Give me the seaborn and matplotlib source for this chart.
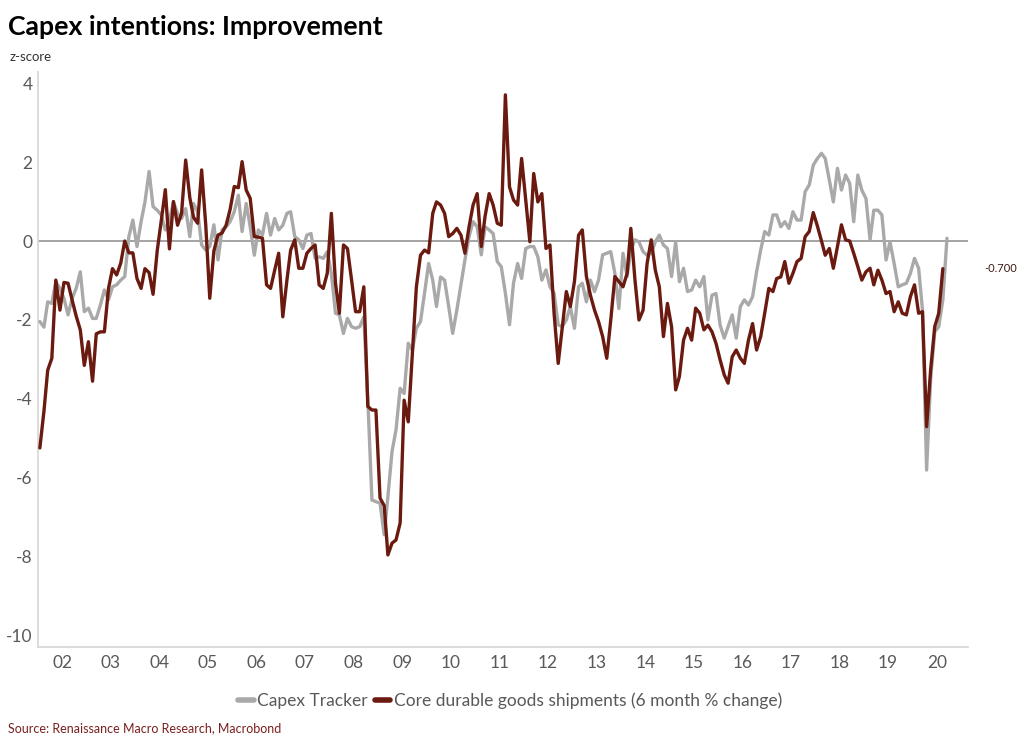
import numpy as np
import pandas as pd
import seaborn as sns
import matplotlib.pyplot as plt
import matplotlib.transforms as mtransforms

# monthly values, Jan 2002 onwards
capex_tracker = [
    -2.04, -2.18, -1.54, -1.58, -1.03, -1.20, -1.45, -1.87, -1.45, -1.20, -0.78, -1.79,
    -1.70, -1.96, -1.96, -1.62, -1.24, -1.49, -1.16, -1.11, -0.99, -0.90, 0.11, 0.53,
    -0.14, 0.49, 0.99, 1.76, 0.87, 0.78, 0.66, 0.28, 0.53, 0.99, 0.70, 0.57,
    0.82, 0.11, 0.95, 0.74, -0.10, -0.23, -0.14, 0.41, -0.48, 0.28, 0.36, 0.49,
    0.74, 1.16, 0.24, 0.95, 0.36, -0.36, 0.28, 0.15, 0.70, 0.15, 0.57, 0.28,
    0.40, 0.70, 0.74, 0.11, 0.03, -0.19, 0.15, 0.19, -0.44, -0.40, -0.44, -0.27,
    -0.82, -1.83, -1.87, -2.34, -1.96, -2.17, -2.21, -2.17, -1.92, -4.00, -6.56, -6.60,
    -6.64, -7.44, -6.47, -5.33, -4.78, -3.73, -3.86, -2.59, -2.76, -2.21, -2.04, -1.33,
    -0.57, -0.99, -1.66, -0.91, -0.99, -1.66, -2.34, -1.75, -1.11, -0.48, 0.11, 0.49,
    0.36, -0.35, 0.36, 0.28, 0.19, -0.52, -0.65, -1.32, -2.12, -1.07, -0.57, -0.95,
    -0.19, -0.14, -0.14, -0.40, -0.99, -0.73, -1.16, -1.32, -2.12, -2.17, -2.00, -1.66,
    -2.21, -1.16, -1.07, -1.54, -0.99, -1.28, -0.99, -0.35, -0.31, -0.27, -0.82, -1.71,
    -0.31, -0.90, -0.23, 0.03, -0.02, -0.27, -0.36, -0.31, -0.02, 0.15, -0.10, -0.19,
    -0.90, -0.02, -1.03, -0.69, -1.28, -1.24, -0.99, -1.16, -0.90, -2.00, -1.37, -1.33,
    -2.13, -2.46, -2.17, -1.87, -2.46, -1.66, -1.49, -1.62, -1.41, -0.78, -0.23, 0.24,
    0.15, 0.66, 0.66, 0.36, 0.49, 0.32, 0.74, 0.53, 0.53, 1.25, 1.42, 1.92,
    2.09, 2.22, 2.09, 1.54, 0.99, 1.84, 1.29, 1.67, 1.46, 0.49, 1.67, 1.29,
    1.08, 0.03, 0.78, 0.78, 0.66, -0.48, -0.02, -0.57, -1.16, -1.11, -1.07, -0.82,
    -0.44, -0.69, -1.75, -5.80, -3.52, -2.30, -2.17, -1.49, 0.07,
]

core_shipments = [
    -5.24, -4.30, -3.27, -2.97, -0.99, -1.75, -1.05, -1.07, -1.50, -1.90, -2.25, -3.15,
    -2.55, -3.55, -2.35, -2.30, -2.30, -1.20, -0.70, -0.86, -0.56, 0.00, -0.30, -0.30,
    -0.95, -1.20, -0.70, -0.80, -1.35, -0.25, 0.50, 1.30, -0.20, 1.00, 0.40, 0.70,
    2.05, 1.10, 0.60, 0.45, 1.80, 0.40, -1.45, -0.25, 0.15, 0.20, 0.40, 0.80,
    1.38, 1.35, 2.01, 1.29, 1.08, 0.11, 0.10, 0.07, -1.11, -1.20, -0.74, -0.31,
    -1.92, -0.99, -0.23, 0.03, -0.69, -0.69, -0.31, -0.19, -0.10, -1.11, -1.20, -0.82,
    0.70, -1.07, -1.83, -0.10, -0.19, -0.99, -1.79, -1.79, -1.16, -4.19, -4.28, -4.28,
    -6.51, -6.70, -7.95, -7.65, -7.57, -7.14, -4.03, -4.58, -2.84, -1.16, -0.36, -0.23,
    -0.30, 0.70, 0.99, 0.91, 0.70, 0.11, 0.19, 0.32, 0.15, -0.31, 0.36, 0.91,
    1.20, -0.14, 0.62, 1.20, 0.91, 0.45, 0.40, 3.70, 1.37, 1.04, 0.91, 2.09,
    1.04, -0.02, 1.71, 0.99, 1.20, -0.19, -0.10, -1.83, -3.10, -2.21, -1.28, -1.66,
    -1.03, 0.15, 0.28, -0.90, -1.37, -1.75, -2.04, -2.42, -2.97, -2.00, -0.90, -1.03,
    -1.16, -0.82, 0.32, -0.99, -2.00, -1.75, -0.57, 0.03, -0.74, -1.16, -2.42, -1.58,
    -2.17, -3.77, -3.43, -2.51, -2.21, -2.51, -1.70, -1.83, -2.25, -2.13, -2.30, -2.59,
    -3.01, -3.39, -3.60, -2.93, -2.76, -2.97, -3.10, -2.51, -2.09, -2.76, -2.42, -1.83,
    -1.20, -1.28, -0.95, -0.91, -0.52, -1.07, -0.82, -0.52, -0.44, 0.11, 0.24, 0.72,
    0.38, 0.00, -0.36, -0.19, -0.69, -0.14, 0.41, 0.03, 0.00, -0.31, -0.65, -0.99,
    -0.78, -0.69, -1.11, -0.74, -0.99, -1.33, -1.28, -1.79, -1.54, -1.83, -1.87, -1.41,
    -1.11, -1.83, -1.79, -4.70, -3.27, -2.17, -1.83, -0.70,
]

series_names = ["Capex Tracker", "Core durable goods shipments (6 month % change)"]
series_colors = ["#a9a9a9", "#6b1a10"]
year_labels = [f"{y % 100:02d}" for y in range(2002, 2021)]
y_ticks = [4, 2, 0, -2, -4, -6, -8, -10]

months = pd.date_range("2002-01-01", periods=len(capex_tracker), freq="MS") + pd.Timedelta(days=14)
df = pd.concat([
    pd.DataFrame({"date": months, "value": capex_tracker, "series": series_names[0]}),
    pd.DataFrame({"date": months[:len(core_shipments)], "value": core_shipments, "series": series_names[1]}),
])

sns.set_theme(style="white")
plt.rcParams["font.family"] = ["Lato", "DejaVu Sans"]

fig = plt.figure(figsize=(10.24, 7.49), dpi=100)
ax = fig.add_axes([0.0371, 0.1362, 0.9082, 0.7677])

ax.axhline(0, color="#9c9c9c", lw=1.3, zorder=1)
sns.lineplot(data=df, x="date", y="value", hue="series", hue_order=series_names,
             palette=series_colors, linewidth=2.4, ax=ax, zorder=3)

ax.set_xlim(pd.Timestamp("2002-01-01"), pd.Timestamp("2021-02-20"))
ax.set_ylim(-10.28, 4.28)
ax.set_xticks([pd.Timestamp(f"{y}-07-01") for y in range(2002, 2021)])
ax.set_xticklabels(year_labels)
ax.set_yticks(y_ticks)
ax.set_yticklabels([str(t) for t in y_ticks])
ax.tick_params(axis="both", length=0, labelsize=12.5, colors="#595959")
ax.tick_params(axis="y", pad=4)
ax.tick_params(axis="x", pad=6)
ax.set_xlabel("")
ax.set_ylabel("")
for side in ["top", "right"]:
    ax.spines[side].set_visible(False)
for side in ["left", "bottom"]:
    ax.spines[side].set_color("#d9d9d9")
    ax.spines[side].set_linewidth(1.3)

sns.move_legend(ax, "center", bbox_to_anchor=(0.498, 0.065), bbox_transform=fig.transFigure,
                ncol=2, frameon=False, title=None, fontsize=12.5, handlelength=0.9,
                handletextpad=0.2, columnspacing=0.4, labelcolor="#595959")
for line in ax.get_legend().get_lines():
    line.set_linewidth(4)

# value label for the last brown point
trans = mtransforms.blended_transform_factory(ax.transAxes, ax.transData)
ax.annotate(f"{core_shipments[-1]:.3f}", xy=(1, core_shipments[-1]), xycoords=trans,
            xytext=(12, 0), textcoords="offset points", va="center", ha="left",
            fontsize=8, color="#3c1a14", annotation_clip=False)

fig.text(0.008, 0.964, "Capex intentions: Improvement", fontsize=19.2, fontweight="bold",
         va="center", ha="left", color="black")
fig.text(0.009, 0.924, "z-score", fontsize=9.5, va="center", ha="left", color="#333333")
fig.text(0.008, 0.028, "Source: Renaissance Macro Research, Macrobond", fontsize=9,
         va="center", ha="left", color="#7b1f1f")

fig.savefig("out.png", dpi=100)
